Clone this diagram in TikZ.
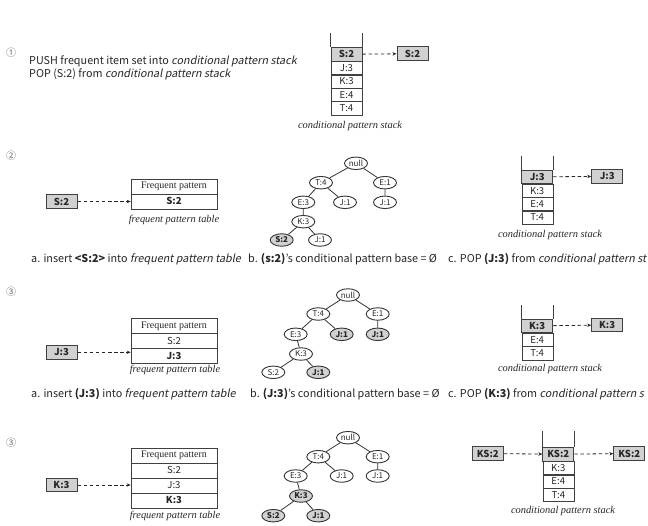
\documentclass[tikz,border=0pt]{standalone}
\usepackage{fontspec}
\setmainfont{Noto Sans CJK KR}[ItalicFont={Noto Sans CJK KR},ItalicFeatures={FakeSlant=0.2}]
\newfontfamily\tabfont{Liberation Serif}
\usetikzlibrary{shapes.geometric,arrows.meta}

\newcommand{\txtsize}{\fontsize{10.8}{12}\selectfont}
\newcommand{\cellsize}{\fontsize{9.6}{10}\selectfont}

\tikzset{
  every node/.append style={text=black!85},
  num/.style={font=\fontsize{10}{11}\selectfont,text=black!60,inner sep=0pt},
  textline/.style={font=\txtsize,inner sep=0pt,anchor=west},
  cell/.style={draw=black!75,minimum width=31pt,minimum height=13.7pt,inner sep=0pt,font=\cellsize},
  topcell/.style={cell,fill=black!18,line width=1pt,font=\cellsize\bfseries},
  fphead/.style={draw=black!75,minimum width=86pt,minimum height=15pt,inner sep=0pt,line width=0.7pt,font=\tabfont\fontsize{10}{11}\selectfont},
  fprow/.style={fphead,font=\cellsize},
  fpnew/.style={fphead,font=\cellsize\bfseries},
  tn/.style={draw=black!80,ellipse,minimum width=23pt,minimum height=12.5pt,inner sep=0pt,line width=0.9pt,font=\fontsize{8}{8}\selectfont},
  tnhi/.style={tn,fill=black!18,font=\fontsize{8}{8}\selectfont\bfseries},
  capt/.style={font=\tabfont\itshape\fontsize{10.4}{11}\selectfont,inner sep=0pt},
  popto/.style={->,draw=black!85,dash pattern=on 3.5pt off 2.6pt,line width=0.8pt},
  wall/.style={draw=black!75,line width=0.8pt},
  treeline/.style={draw=black!80,line width=0.8pt},
  stackmat/.style={anchor=north,inner sep=0pt,row sep=-0.7pt},
}

\begin{document}
\begin{tikzpicture}[x=1pt,y=-1pt,>={Stealth[length=4pt,width=3.4pt]}]
  \useasboundingbox (0,0) rectangle (648,525);
  \clip (0,0) rectangle (648,525);

  % step 1
  \node[num] (c1) at (11,53) {①};
  \node[textline] (t1a) at (29,61) {PUSH frequent item set into \textit{conditional pattern stack}};
  \node[textline] (t1b) at (29,74) {POP (S:2) from \textit{conditional pattern stack}};
  \matrix[stackmat] at (346.5,46.7)
  {
    \node[topcell] (s1a) {S:2}; \\
    \node[cell] (s1b) {J:3}; \\
    \node[cell] (s1c) {K:3}; \\
    \node[cell] (s1d) {E:4}; \\
    \node[cell] (s1e) {T:4}; \\
  };
  \draw[wall] (s1a.north west) -- ++(0,-14);
  \draw[wall] (s1a.north east) -- ++(0,-14);
  \node[capt] (k1) at (350,126) {conditional pattern stack};
  \node[topcell] (p1) at (412.5,53.7) {S:2};
  \draw[popto] (s1a) -- (p1);

  % step 2
  \node[num] (c2) at (11,156) {②};
  \node[topcell] (i2) at (61.5,201.5) {S:2};
  \matrix[stackmat] (fp2) at (174,178.3)
  {
    \node[fphead] (f2a) {Frequent pattern}; \\
    \node[fpnew] (f2b) {S:2}; \\
  };
  \draw[popto] (i2.east) -- (i2.east -| f2b.west);
  \node[capt] (ft2) at (174,220) {frequent pattern table};

  \node[tn] (n2) at (356,163.3) {null};
  \node[tn] (t2) at (321,182.7) {T:4};
  \node[tn] (e2) at (385,182.7) {E:1};
  \node[tn] (ee2) at (303.3,202.3) {E:3};
  \node[tn] (ja2) at (345,202.3) {J:1};
  \node[tn] (jb2) at (385,202.3) {J:1};
  \node[tn] (k2) at (303.3,221.7) {K:3};
  \node[tnhi] (s2) at (281.7,240) {S:2};
  \node[tn] (jc2) at (320,240) {J:1};
  \draw[treeline] (n2) -- (t2) (n2) -- (e2) (t2) -- (ee2) (t2) -- (ja2) (e2) -- (jb2)
    (ee2) -- (k2) (k2) -- (s2) (k2) -- (jc2);

  \matrix[stackmat] at (537.2,169.3)
  {
    \node[topcell] (s2a) {J:3}; \\
    \node[cell] (s2b) {K:3}; \\
    \node[cell] (s2c) {E:4}; \\
    \node[cell] (s2d) {T:4}; \\
  };
  \draw[wall] (s2a.north west) -- ++(0,-14);
  \draw[wall] (s2a.north east) -- ++(0,-14);
  \node[capt] (k2c) at (550,235) {conditional pattern stack};
  \node[topcell] (p2) at (607.2,176.3) {J:3};
  \draw[popto] (s2a) -- (p2);

  \node[textline] (a2) at (31,259) {a. insert \textbf{<S:2>} into \textit{frequent pattern table}};
  \node[textline] (b2) at (248,259) {b. \textbf{(s:2)}'s conditional pattern base = Ø};
  \node[textline] (d2) at (448,259) {c. POP \textbf{(J:3)} from \textit{conditional pattern st}};

  % step 3
  \node[num] (c3) at (11,292) {③};
  \node[topcell] (i3) at (61.5,352.3) {J:3};
  \matrix[stackmat] (fp3) at (174,318)
  {
    \node[fphead] (f3a) {Frequent pattern}; \\
    \node[fprow] (f3b) {S:2}; \\
    \node[fpnew] (f3c) {J:3}; \\
  };
  \draw[popto] (i3.east) -- (i3.east -| f3c.west);
  \node[capt] (ft3) at (175,370) {frequent pattern table};

  \node[tn] (n3) at (348,295) {null};
  \node[tn] (t3) at (318.3,314) {T:4};
  \node[tn] (e3) at (377.7,314) {E:1};
  \node[tn] (ee3) at (295.7,334.3) {E:3};
  \node[tnhi] (ja3) at (341.7,334.3) {J:1};
  \node[tnhi] (jb3) at (377.7,334.3) {J:1};
  \node[tn] (k3) at (301,354) {K:3};
  \node[tn] (s3) at (273.3,372.3) {S:2};
  \node[tnhi] (jc3) at (318.3,372.3) {J:1};
  \draw[treeline] (n3) -- (t3) (n3) -- (e3) (t3) -- (ee3) (t3) -- (ja3) (e3) -- (jb3)
    (ee3) -- (k3) (k3) -- (s3) (k3) -- (jc3);

  \matrix[stackmat] at (537.2,318.3)
  {
    \node[topcell] (s3a) {K:3}; \\
    \node[cell] (s3b) {E:4}; \\
    \node[cell] (s3c) {T:4}; \\
  };
  \draw[wall] (s3a.north west) -- ++(0,-14);
  \draw[wall] (s3a.north east) -- ++(0,-14);
  \node[capt] (k3c) at (550,369.3) {conditional pattern stack};
  \node[topcell] (p3) at (607.2,325) {K:3};
  \draw[popto] (s3a) -- (p3);

  \node[textline] (a3) at (31,394) {a. insert \textbf{(J:3)} into \textit{frequent pattern table}};
  \node[textline] (b3) at (250,394) {b. \textbf{(J:3)}'s conditional pattern base = Ø};
  \node[textline] (d3) at (448,394) {c. POP \textbf{(K:3)} from \textit{conditional pattern s}};

  % step 4
  \node[num] (c4) at (11,443) {③};
  \node[topcell] (i4) at (61.5,485) {K:3};
  \matrix[stackmat] (fp4) at (174,447.3)
  {
    \node[fphead] (f4a) {Frequent pattern}; \\
    \node[fprow] (f4b) {S:2}; \\
    \node[fprow] (f4c) {J:3}; \\
    \node[fpnew] (f4d) {K:3}; \\
  };
  \draw[popto] (i4.east) -- (i4.east -| f4c.west);
  \node[capt] (ft4) at (175,516) {frequent pattern table};

  \node[tn] (n4) at (348,437.7) {null};
  \node[tn] (t4) at (318.3,456.7) {T:4};
  \node[tn] (e4) at (377.7,456.7) {E:1};
  \node[tn] (ee4) at (295.7,476) {E:3};
  \node[tn] (ja4) at (341.7,476) {J:1};
  \node[tn] (jb4) at (377.7,476) {J:1};
  \node[tnhi] (k4) at (301,496) {K:3};
  \node[tnhi] (s4) at (273.3,515.7) {S:2};
  \node[tnhi] (jc4) at (318.3,515.7) {J:1};
  \draw[treeline] (n4) -- (t4) (n4) -- (e4) (t4) -- (ee4) (t4) -- (ja4) (e4) -- (jb4)
    (ee4) -- (k4) (k4) -- (s4) (k4) -- (jc4);

  \matrix[stackmat] at (558.3,446.7)
  {
    \node[topcell] (s4a) {KS:2}; \\
    \node[cell] (s4b) {K:3}; \\
    \node[cell] (s4c) {E:4}; \\
    \node[cell] (s4d) {T:4}; \\
  };
  \draw[wall] (s4a.north west) -- ++(0,-16);
  \draw[wall] (s4a.north east) -- ++(0,-16);
  \node[capt] (k4c) at (563,511) {conditional pattern stack};
  \node[topcell] (q4) at (487.8,453.5) {KS:2};
  \node[topcell] (p4) at (629.3,453.5) {KS:2};
  \draw[popto] (q4) -- (s4a);
  \draw[popto] (s4a) -- (p4);
\end{tikzpicture}
\end{document}
